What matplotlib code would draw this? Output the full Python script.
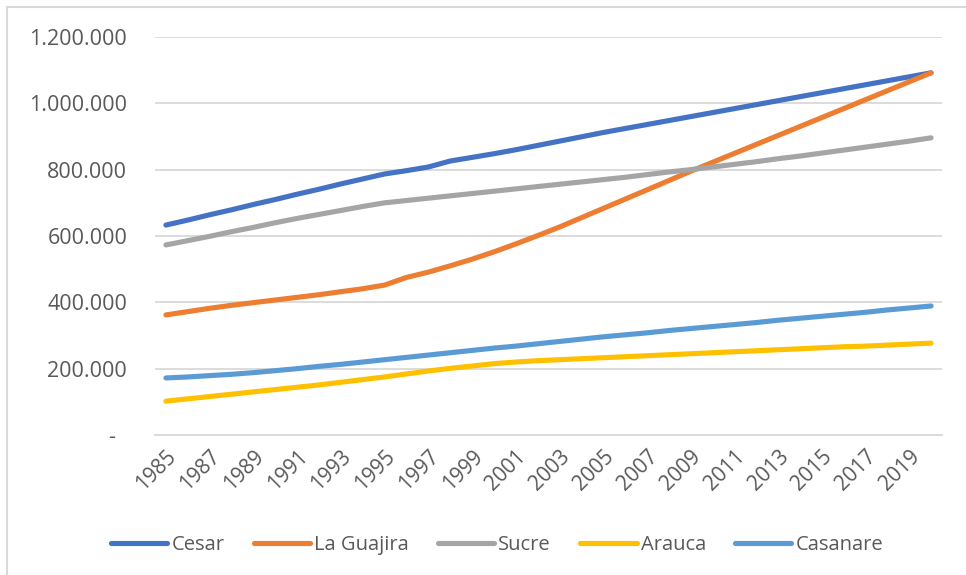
import numpy as np
import matplotlib
matplotlib.use("Agg")
import matplotlib.pyplot as plt
from matplotlib.ticker import FuncFormatter
from matplotlib.patches import Rectangle

years = list(range(1985, 2021))

cesar = [633, 648, 664, 679, 695, 710, 726, 741, 757, 772,
         787, 797, 808, 826, 837, 848, 860, 873, 886, 899,
         912, 924, 936, 948, 960, 972, 984, 996, 1008, 1020,
         1032, 1044, 1056, 1068, 1080, 1092]
la_guajira = [362, 372, 382, 391, 399, 407, 415, 423, 432, 441,
              452, 475, 491, 510, 530, 552, 576, 601, 627, 655,
              683, 711, 739, 767, 795, 822, 849, 876, 903, 930,
              957, 984, 1011, 1038, 1065, 1092]
sucre = [573, 586, 599, 613, 626, 640, 653, 665, 677, 689,
         700, 707, 714, 721, 728, 735, 742, 749, 756, 763,
         770, 777, 785, 793, 800, 808, 816, 824, 833, 841,
         850, 859, 868, 877, 886, 896]
arauca = [102, 109, 116, 123, 130, 137, 144, 151, 159, 167,
          175, 184, 193, 201, 208, 215, 220, 224, 227, 230,
          233, 236, 239, 242, 245, 248, 251, 254, 257, 260,
          263, 266, 268, 271, 274, 277]
casanare = [172, 175, 179, 183, 188, 194, 200, 207, 213, 220,
            227, 234, 241, 248, 255, 262, 268, 275, 282, 289,
            296, 302, 308, 315, 321, 327, 333, 339, 346, 352,
            358, 364, 370, 377, 383, 389]

series_names = ["Cesar", "La Guajira", "Sucre", "Arauca", "Casanare"]
series_values = [cesar, la_guajira, sucre, arauca, casanare]
colors = ["#4472C4", "#ED7D31", "#A5A5A5", "#FFC000", "#5B9BD5"]

plt.rcParams["font.family"] = ["Open Sans", "DejaVu Sans"]
text_color = "#595959"
grid_color = "#D9D9D9"

W, H = 966, 575
fig = plt.figure(figsize=(W / 100, H / 100), dpi=100)
ax = fig.add_axes([155 / W, 1 - 435 / H, (942 - 155) / W, (435 - 37) / H])

x = np.arange(len(years))
for name, vals, c in zip(series_names, series_values, colors):
    ax.plot(x, np.array(vals) * 1000, color=c, lw=3.7, label=name,
            solid_capstyle="round", solid_joinstyle="round")

ax.set_xlim(-0.5, len(years) - 0.5)
ax.set_ylim(0, 1200000)
ax.set_yticks(np.arange(0, 1200001, 200000))


def fmt(v, pos):
    if v == 0:
        return "-  "
    return f"{int(v):,}".replace(",", ".")


ax.yaxis.set_major_formatter(FuncFormatter(fmt))
ax.set_xticks(x[::2])
ax.set_xticklabels([str(y) for y in years[::2]], rotation=45, ha="right",
                   rotation_mode="anchor")

ax.grid(axis="y", color=grid_color, lw=1.3)
ax.set_axisbelow(True)
for s in ["top", "right", "left"]:
    ax.spines[s].set_visible(False)
ax.spines["bottom"].set_color(grid_color)
ax.spines["bottom"].set_linewidth(1.3)
ax.tick_params(axis="y", length=0, pad=20, labelsize=15.5, labelcolor=text_color)
ax.tick_params(axis="x", length=0, pad=8, labelsize=15, labelcolor=text_color)

leg = fig.legend(loc="center", bbox_to_anchor=(497 / W, 1 - 545 / H), ncol=5,
                 frameon=False, fontsize=14.5, handlelength=2.8,
                 handletextpad=0.2, columnspacing=1.45)
for t in leg.get_texts():
    t.set_color(text_color)

fig.patches.append(Rectangle((7 / W, -0.1), 1.2, 1 - 7 / H + 0.1,
                             transform=fig.transFigure, fill=False,
                             edgecolor=grid_color, lw=1.5))

fig.savefig("out.png", dpi=100)
